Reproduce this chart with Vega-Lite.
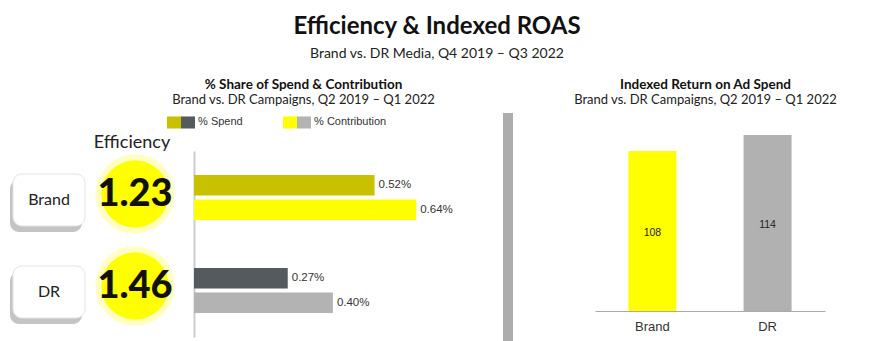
{
  "$schema": "https://vega.github.io/schema/vega-lite/v6.json",
  "background": "white",
  "padding": {"left": 0, "top": 14, "right": 0, "bottom": 0},
  "bounds": "flush",
  "spacing": 0,
  "title": {
    "text": "Efficiency & Indexed ROAS",
    "subtitle": "Brand vs. DR Media, Q4 2019 – Q3 2022",
    "anchor": "middle",
    "dx": -7,
    "font": "Lato",
    "fontSize": 24,
    "fontWeight": "bold",
    "color": "#111111",
    "subtitleFont": "Lato",
    "subtitleFontSize": 14,
    "subtitleColor": "#222222",
    "subtitlePadding": 8,
    "offset": 17
  },
  "config": {
    "view": {"stroke": null},
    "font": "Lato",
    "axis": {"grid": false}
  },
  "hconcat": [
    {
      "width": 194,
      "height": 229,
      "data": {
        "values": [
          {"campaign": "Brand", "efficiency": 1.23},
          {"campaign": "DR", "efficiency": 1.46}
        ]
      },
      "encoding": {
        "y": {
          "field": "campaign",
          "type": "nominal",
          "axis": null,
          "scale": {"domain": ["Brand", "DR"], "range": [59, 203], "paddingInner": 0.435, "paddingOuter": 0}
        }
      },
      "layer": [
        {
          "mark": {"type": "rect", "fill": "#c4c4c4", "cornerRadius": 9, "xOffset": -3, "yOffset": 8},
          "encoding": {
            "x": {
              "datum": "Campaign",
              "type": "nominal",
              "scale": {"domain": ["Campaign", "Efficiency"], "range": [13, 171], "paddingInner": 0.163, "paddingOuter": 0},
              "axis": {
                "orient": "top",
                "offset": -38,
                "domain": false,
                "ticks": false,
                "title": null,
                "labelPadding": 0,
                "labelAngle": 0,
                "labelFont": "Lato",
                "labelFontSize": 18,
                "labelColor": "#222222",
                "labelOffset": -3,
                "labelExpr": "datum.value === 'Efficiency' ? 'Efficiency' : ''"
              }
            }
          }
        },
        {
          "mark": {"type": "rect", "fill": "#ffffff", "stroke": "#e4e4e4", "strokeWidth": 1, "cornerRadius": 9, "yOffset": 2},
          "encoding": {"x": {"datum": "Campaign", "type": "nominal"}}
        },
        {
          "mark": {"type": "text", "font": "Lato", "fontSize": 16, "color": "#222222", "yOffset": 2},
          "encoding": {
            "x": {"datum": "Campaign", "type": "nominal"},
            "text": {"field": "campaign", "type": "nominal"}
          }
        },
        {
          "mark": {"type": "point", "shape": "circle", "filled": true, "color": "#ffff33", "opacity": 0.3, "size": 6300, "yOffset": -4},
          "encoding": {"x": {"datum": "Efficiency", "type": "nominal"}}
        },
        {
          "mark": {"type": "point", "shape": "circle", "filled": true, "color": "#ffff00", "opacity": 1, "size": 4536, "yOffset": -4},
          "encoding": {"x": {"datum": "Efficiency", "type": "nominal"}}
        },
        {
          "mark": {"type": "text", "font": "Lato", "fontSize": 38, "fontWeight": 900, "color": "#111111", "yOffset": -3},
          "encoding": {
            "x": {"datum": "Efficiency", "type": "nominal"},
            "text": {"field": "efficiency", "type": "quantitative", "format": ".2f"}
          }
        }
      ]
    },
    {
      "width": 309,
      "height": 229,
      "title": {
        "text": "% Share of Spend & Contribution",
        "subtitle": "Brand vs. DR Campaigns, Q2 2019 – Q1 2022",
        "anchor": "middle",
        "frame": "group",
        "dx": -45,
        "font": "Lato",
        "fontSize": 13.5,
        "fontWeight": "bold",
        "color": "#111111",
        "subtitleFont": "Lato",
        "subtitleFontSize": 13,
        "subtitleColor": "#222222",
        "subtitlePadding": 3,
        "offset": 6
      },
      "data": {
        "values": [
          {"campaign": "Brand", "measure": "% Spend", "series": "Brand spend", "share": 0.0052},
          {"campaign": "Brand", "measure": "% Contribution", "series": "Brand contribution", "share": 0.0064},
          {"campaign": "DR", "measure": "% Spend", "series": "DR spend", "share": 0.0027},
          {"campaign": "DR", "measure": "% Contribution", "series": "DR contribution", "share": 0.0040}
        ]
      },
      "encoding": {
        "y": {
          "field": "campaign",
          "type": "nominal",
          "scale": {"domain": ["Brand", "DR"], "range": [38, 224], "paddingInner": 0.516, "paddingOuter": 0.258},
          "axis": {"labels": false, "ticks": false, "title": null, "domainColor": "#cccccc", "domainWidth": 2}
        },
        "yOffset": {
          "field": "measure",
          "type": "nominal",
          "scale": {"domain": ["% Spend", "% Contribution"], "paddingInner": 0.16, "paddingOuter": 0}
        },
        "x": {
          "field": "share",
          "type": "quantitative",
          "scale": {"domain": [0, 0.0089], "nice": false},
          "axis": null
        }
      },
      "layer": [
        {
          "mark": {"type": "bar", "strokeWidth": 0},
          "encoding": {
            "fill": {
              "field": "series",
              "type": "nominal",
              "scale": {
                "domain": ["Brand spend", "DR spend", "Brand contribution", "DR contribution"],
                "range": ["#c9c100", "#545a5e", "#ffff00", "#b3b3b3"]
              },
              "legend": {
                "orient": "none",
                "legendX": 167,
                "legendY": 2,
                "direction": "horizontal",
                "columns": 4,
                "columnPadding": 0,
                "padding": 0,
                "title": null,
                "symbolType": "M-1,-0.86L1,-0.86L1,0.86L-1,0.86Z",
                "symbolSize": 196,
                "symbolStrokeWidth": 0,
                "symbolOpacity": 1,
                "labelFont": "Liberation Sans",
                "labelFontSize": 11,
                "labelColor": "#333333",
                "labelOffset": 0,
                "labelExpr": "datum.value === 'DR spend' ? '\u200b\u00a0% Spend\u00a0\u00a0\u00a0\u00a0\u00a0\u00a0\u00a0\u00a0\u00a0\u00a0\u00a0\u00a0\u00a0\u200b' : datum.value === 'DR contribution' ? '\u200b\u00a0% Contribution' : ''"
              }
            }
          }
        },
        {
          "mark": {"type": "text", "align": "left", "baseline": "middle", "dx": 4, "font": "Liberation Sans", "fontSize": 11.5, "color": "#333333"},
          "encoding": {
            "text": {"field": "share", "type": "quantitative", "format": ".2%"}
          }
        }
      ]
    },
    {
      "width": 10,
      "height": 229,
      "view": {"fill": "#adadad", "stroke": null},
      "data": {"values": [{"section": "divider"}]},
      "mark": {"type": "rect", "color": "#adadad"},
      "encoding": {}
    },
    {
      "width": 375,
      "height": 198,
      "title": {
        "text": "Indexed Return on Ad Spend",
        "subtitle": "Brand vs. DR Campaigns, Q2 2019 – Q1 2022",
        "anchor": "middle",
        "frame": "group",
        "dx": 5,
        "font": "Lato",
        "fontSize": 13.5,
        "fontWeight": "bold",
        "color": "#111111",
        "subtitleFont": "Lato",
        "subtitleFontSize": 13,
        "subtitleColor": "#222222",
        "subtitlePadding": 3,
        "offset": 6
      },
      "data": {
        "values": [
          {"campaign": "Brand", "index": 108},
          {"campaign": "DR", "index": 114}
        ]
      },
      "encoding": {
        "x": {
          "field": "campaign",
          "type": "nominal",
          "scale": {"domain": ["Brand", "DR"], "range": [82, 312], "paddingInner": 0.583, "paddingOuter": 0.29},
          "axis": {
            "title": null,
            "labelAngle": 0,
            "ticks": false,
            "domainColor": "#aaaaaa",
            "labelFont": "Liberation Sans",
            "labelFontSize": 13,
            "labelColor": "#333333",
            "labelPadding": 9
          }
        }
      },
      "layer": [
        {
          "mark": {"type": "bar"},
          "encoding": {
            "y": {
              "field": "index",
              "type": "quantitative",
              "scale": {"domain": [48, 122.25], "nice": false, "zero": false},
              "axis": null
            },
            "y2": {"datum": 48},
            "color": {
              "field": "campaign",
              "type": "nominal",
              "scale": {"domain": ["Brand", "DR"], "range": ["#ffff00", "#b1b1b1"]},
              "legend": null
            }
          }
        },
        {
          "mark": {"type": "text", "baseline": "middle", "dy": 2, "font": "Liberation Sans", "fontSize": 10.5, "color": "#222222"},
          "encoding": {
            "y": {
              "field": "index",
              "type": "quantitative",
              "scale": {"domain": [48, 196.5], "nice": false, "zero": false},
              "axis": null
            },
            "text": {"field": "index", "type": "quantitative"}
          }
        }
      ],
      "resolve": {"scale": {"y": "independent"}}
    }
  ]
}
